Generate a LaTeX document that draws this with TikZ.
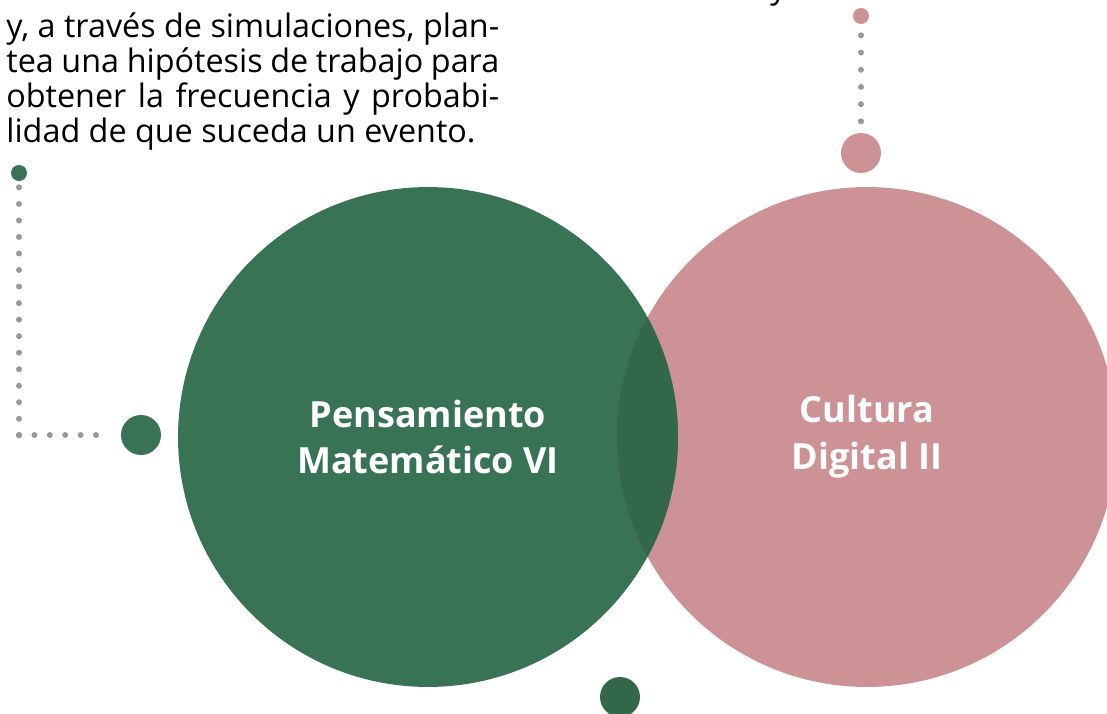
\documentclass[tikz,border=0pt]{standalone}
\usepackage{fontspec}
\setmainfont{Open Sans}
\usepackage{xcolor}
\usetikzlibrary{positioning}

\definecolor{verde}{HTML}{387355}
\definecolor{verdeosc}{HTML}{33674A}
\definecolor{rosa}{HTML}{CD9296}
\definecolor{gris}{HTML}{999999}

% one justified line of the side text
\newcommand{\tline}[1]{\makebox[9.86cm][s]{#1}}

\begin{document}
\begin{tikzpicture}[x=0.02cm, y=-0.02cm,
	font=\fontsize{18.4}{20}\selectfont,
	bigc/.style={circle, minimum size=10cm, inner sep=0pt, text=white, align=center,
		font=\bfseries\fontsize{20.5}{26.6}\selectfont},
	dotc/.style={circle, minimum size=0.8cm, inner sep=0pt},
	tinyc/.style={circle, minimum size=0.32cm, inner sep=0pt},
	grisdots/.style={draw=gris, line width=0.12cm, line cap=round, dash pattern=on 0pt off #1}]
		\useasboundingbox (0,0) rectangle (1107,714);

		% the two subjects
		\node[bigc, fill=rosa] (cd) at (867,437) {Cultura\\Digital II};
		\node[bigc, fill=verde] (pm) at (428,437) {Pensamiento\\Matemático VI};
		\begin{scope}
			\clip (cd.center) circle[radius=250];
			\fill[verdeosc] (pm.center) circle[radius=250];
		\end{scope}

		% side text
		\node[anchor=north west, inner sep=0pt, align=left] (txt) at (6,12)
			{\tline{y, a través de simulaciones, plan-}\\
			 \tline{tea una hipótesis de trabajo para}\\
			 \tline{obtener la frecuencia y probabi-}\\
			 lidad de que suceda un evento.};
		\node[anchor=base west, inner sep=0pt] (ytop) at (770,-2) {y};

		% left marker
		\node[tinyc, fill=verde] (gtop) at (19,173) {};
		\node[dotc, fill=verde] (gdot) at (141,435) {};
		\coordinate (gcorner) at (19,436);
		\coordinate (gend) at (97,435);
		\draw[grisdots=0.3307cm] ([yshift=-0.12cm]gtop.south) -- (gcorner);
		\draw[grisdots=0.308cm] (19,435) -- (gend);

		% right marker
		\node[tinyc, fill=rosa] (ptop) at (861,16) {};
		\node[dotc, fill=rosa] (pdot) at (861,153) {};
		\draw[grisdots=0.344cm] ([yshift=-0.22cm]ptop.south) -- ([yshift=0.22cm]pdot.north);

		% bottom marker
		\node[dotc, fill=verdeosc] (bdot) at (620,697) {};
	\end{tikzpicture}
\end{document}
